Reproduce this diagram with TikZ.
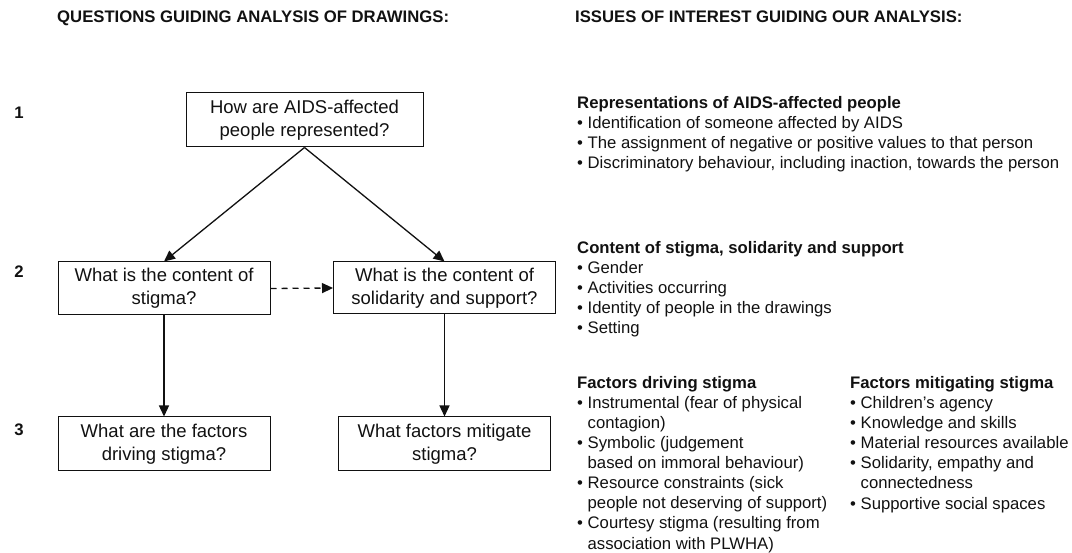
\documentclass[tikz,border=0pt]{standalone}
\usepackage{fontspec}
\setmainfont{Liberation Sans}
\usetikzlibrary{arrows.meta}
\definecolor{ink}{HTML}{111111}
\begin{document}
\begin{tikzpicture}[x=1pt,y=-1pt,
  qbox/.style={draw=ink, line width=1pt, align=center, inner sep=0pt,
    font=\fontsize{18.5}{23}\selectfont, text=ink},
  hdr/.style={font=\bfseries\fontsize{16.7}{20}\selectfont, anchor=base west, inner sep=0pt, text=ink},
  num/.style={font=\bfseries\fontsize{16.7}{20}\selectfont, inner sep=0pt, text=ink},
  lst/.style={font=\fontsize{16.7}{20.1}\selectfont, align=left, anchor=base west, inner sep=0pt, text=ink},
  arr/.style={draw=ink, line width=1.3pt, -{Triangle[length=11pt,width=10pt]}},
  darr/.style={arr, dash pattern=on 6pt off 5pt},
]
\useasboundingbox (0,0) rectangle (1072,553);

% headers
\node[hdr] (hl) at (57,23) {QUESTIONS GUIDING ANALYSIS OF DRAWINGS:};
\node[hdr] (hr) at (575,23) {ISSUES OF INTEREST GUIDING OUR ANALYSIS:};

% level numbers
\node[num] (n1) at (19,113) {1};
\node[num] (n2) at (19,272) {2};
\node[num] (n3) at (19,430) {3};

% question boxes
\node[qbox, minimum width=237pt, minimum height=54pt] (q1) at (304.5,120) {How are AIDS-affected\\people represented?};
\node[qbox, minimum width=212pt, minimum height=53pt] (q2) at (164,288.5) {What is the content of\\stigma?};
\node[qbox, minimum width=222pt, minimum height=52pt] (q3) at (444.5,288) {What is the content of\\solidarity and support?};
\node[qbox, minimum width=212pt, minimum height=54pt] (q4) at (164,444) {What are the factors\\driving stigma?};
\node[qbox, minimum width=212pt, minimum height=54pt] (q5) at (444.5,444) {What factors mitigate\\stigma?};

% connectors
\draw[arr] (q1.south) -- (q2.north);
\draw[arr] (q1.south) -- (q3.north);
\draw[darr] (q2.east) -- (q3.west);
\draw[arr] (q2.south) -- (q4.north);
\draw[arr] (q3.south) -- (q5.north);

% issue lists (anchored at the baseline of their last line)
\node[lst] (l1) at (577,168.5) {\textbf{Representations of AIDS-affected people}\\
• Identification of someone affected by AIDS\\
• The assignment of negative or positive values to that person\\
• Discriminatory behaviour, including inaction, towards the person};

\node[lst] (l2) at (577,334) {\textbf{Content of stigma, solidarity and support}\\
• Gender\\
• Activities occurring\\
• Identity of people in the drawings\\
• Setting};

\node[lst] (l3) at (577,549) {\textbf{Factors driving stigma}\\
• Instrumental (fear of physical\\
\hphantom{• }contagion)\\
• Symbolic (judgement\\
\hphantom{• }based on immoral behaviour)\\
• Resource constraints (sick\\
\hphantom{• }people not deserving of support)\\
• Courtesy stigma (resulting from\\
\hphantom{• }association with PLWHA)};

\node[lst] (l4) at (850,509) {\textbf{Factors mitigating stigma}\\
• Children’s agency\\
• Knowledge and skills\\
• Material resources available\\
• Solidarity, empathy and\\
\hphantom{• }connectedness\\
• Supportive social spaces};
\end{tikzpicture}
\end{document}
